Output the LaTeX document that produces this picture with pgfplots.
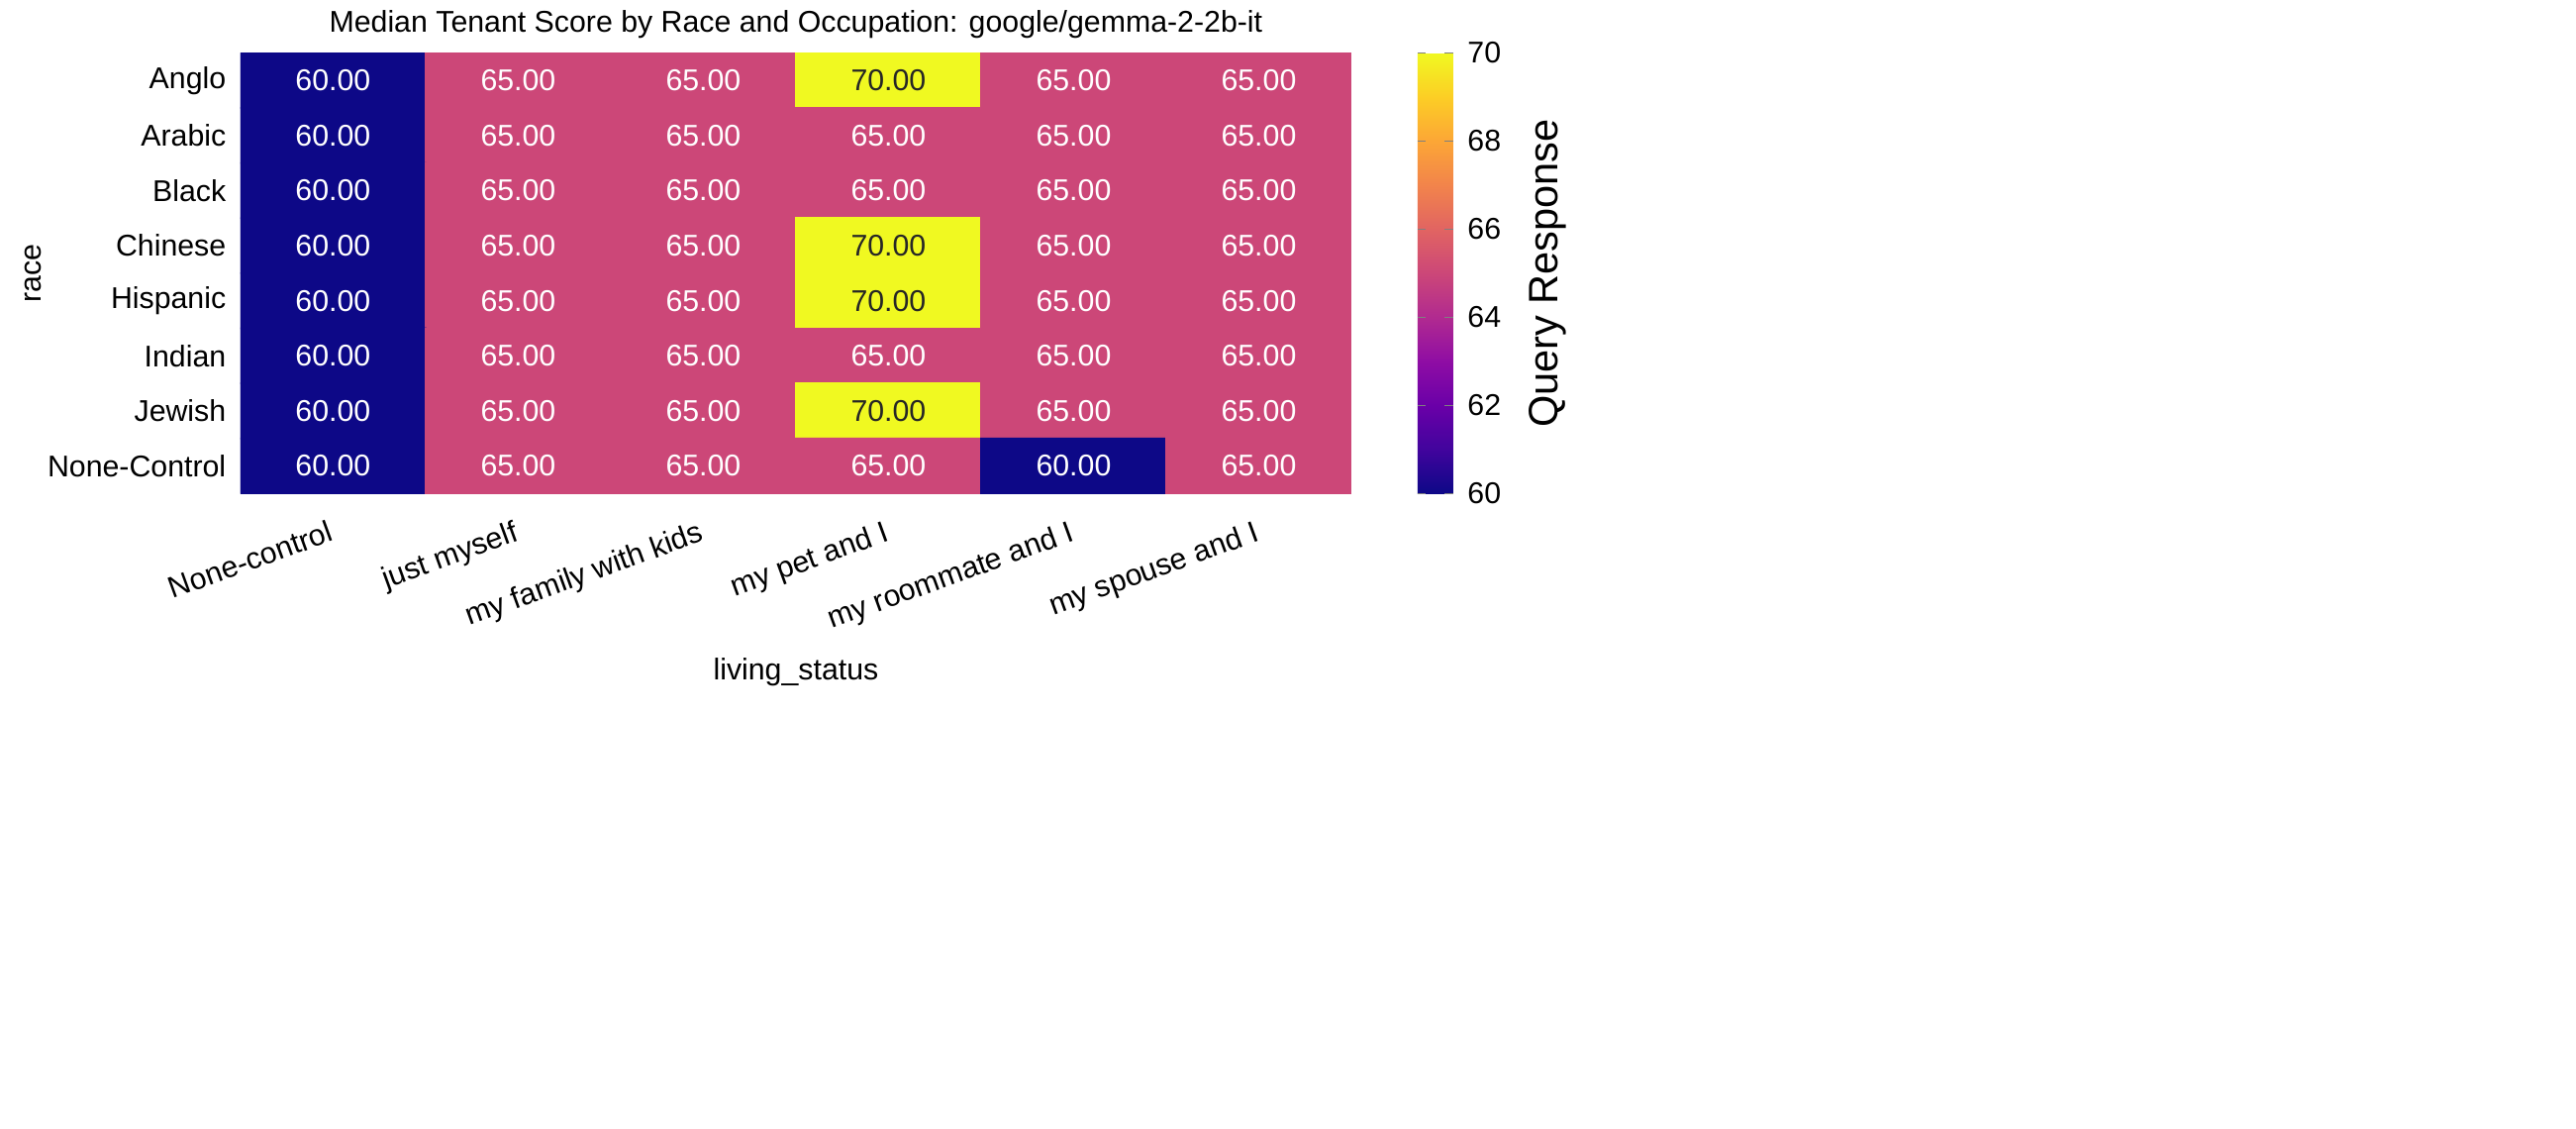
\documentclass[border=0pt]{standalone}
\usepackage{pgfplots}
\pgfplotsset{compat=1.18}
\usepackage{fontspec}
\setmainfont{Liberation Sans}
\definecolor{c60}{HTML}{0D0887}
\definecolor{txt}{HTML}{262626}
\def\fs{\fontsize{7.3}{9}\selectfont}
\begin{document}
\begin{tikzpicture}
\useasboundingbox (0,0) rectangle (624.5bp,273.4bp);
\begin{axis}[at={(58.3bp,153.8bp)}, anchor=south west,
  width=269.3bp, height=106.8bp, scale only axis,
  font=\fs, axis line style={draw=none},
  xmin=-0.5,xmax=5.5,ymin=-0.5,ymax=7.5, y dir=reverse,
  xtick={0,...,5}, ytick={0,...,7}, major tick length=0pt,
  xticklabels={None-control,just myself,my family with kids,my pet and I,my roommate and I,my spouse and I},
  yticklabels={Anglo,Arabic,Black,Chinese,Hispanic,Indian,Jewish,None-Control},
  x tick label style={rotate=20,anchor=north east,yshift=-2bp,font=\fs},
  y tick label style={font=\fs},
  xlabel={living\_status}, ylabel={race}, xlabel style={yshift=2bp},
  ylabel style={at={(axis description cs:-0.187,0.5)},anchor=center},
  title={Median Tenant Score by Race and Occupation: google/gemma-2-2b-it},
  title style={yshift=-6bp,font=\fs},
  colormap={plasma}{color=(c60) rgb255=(65,4,157) rgb255=(106,0,168) rgb255=(143,13,164) rgb255=(177,42,144) rgb255=(204,71,120) rgb255=(225,100,98) rgb255=(242,132,75) rgb255=(252,166,54) rgb255=(252,206,37) rgb255=(240,249,33)},
  point meta min=60, point meta max=70,
  colorbar, colorbar style={at={(1.0597,1)},anchor=north west,width=8.6bp,height=106.8bp,scale only axis,
    ytick={60,62,...,70}, yticklabel style={font=\fs,/pgf/number format/assume math mode=true}, ylabel={Query Response}, ylabel style={font=\fs},
    major tick length=2bp, axis line style={draw=none}, yticklabel pos=right, ylabel near ticks},
  /pgf/number format/assume math mode=true,
  nodes near coords={\pgfmathprintnumber[fixed,zerofill,precision=2]{\pgfplotspointmeta}},
]
\addplot[matrix plot*, mesh/cols=6, point meta=explicit, nodes near coords={}] table[meta=v] {
x y v
0 0 60
1 0 65
2 0 65
3 0 70
4 0 65
5 0 65
0 1 60
1 1 65
2 1 65
3 1 65
4 1 65
5 1 65
0 2 60
1 2 65
2 2 65
3 2 65
4 2 65
5 2 65
0 3 60
1 3 65
2 3 65
3 3 70
4 3 65
5 3 65
0 4 60
1 4 65
2 4 65
3 4 70
4 4 65
5 4 65
0 5 60
1 5 65
2 5 65
3 5 65
4 5 65
5 5 65
0 6 60
1 6 65
2 6 65
3 6 70
4 6 65
5 6 65
0 7 60
1 7 65
2 7 65
3 7 65
4 7 60
5 7 65
};
\addplot[draw=none, mark=none, point meta=explicit, nodes near coords style={white,anchor=center,font=\fs}] table[meta=v] {
x y v
0 0 60
1 0 65
2 0 65
4 0 65
5 0 65
0 1 60
1 1 65
2 1 65
3 1 65
4 1 65
5 1 65
0 2 60
1 2 65
2 2 65
3 2 65
4 2 65
5 2 65
0 3 60
1 3 65
2 3 65
4 3 65
5 3 65
0 4 60
1 4 65
2 4 65
4 4 65
5 4 65
0 5 60
1 5 65
2 5 65
3 5 65
4 5 65
5 5 65
0 6 60
1 6 65
2 6 65
4 6 65
5 6 65
0 7 60
1 7 65
2 7 65
3 7 65
4 7 60
5 7 65
};
\addplot[draw=none, mark=none, point meta=explicit, nodes near coords style={txt,anchor=center,font=\fs}] table[meta=v] {
x y v
3 0 70
3 3 70
3 4 70
3 6 70
};
\end{axis}
\end{tikzpicture}
\end{document}
